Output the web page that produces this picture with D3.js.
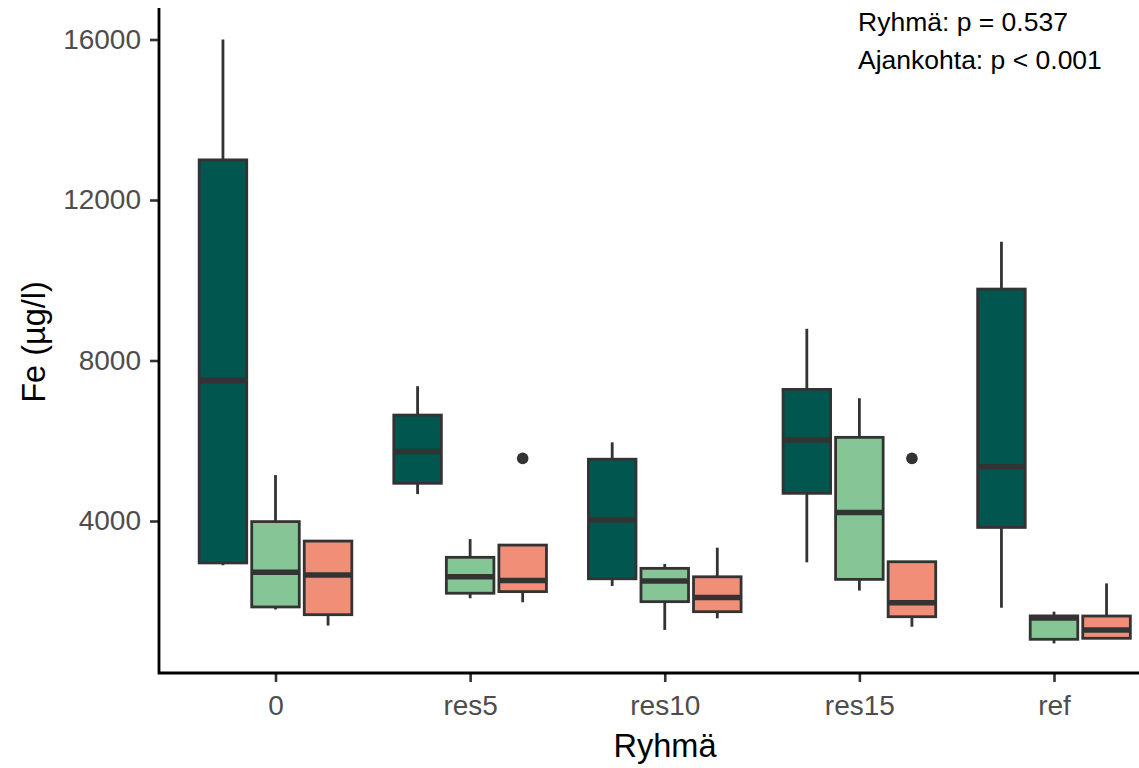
<!DOCTYPE html>
<html>
<head>
<meta charset="utf-8">
<script src="https://cdn.jsdelivr.net/npm/d3@7"></script>
<style>
  body { margin: 0; background: #fff; }
  text { font-family: "Liberation Sans", Arial, sans-serif; }
</style>
</head>
<body>
<svg id="chart" width="1139" height="768"></svg>
<script>
var groups = ["0", "res5", "res10", "res15", "ref"];
var times = ["1", "2", "3"];
var timeColors = ["#01564f", "#86c596", "#f18e78"];

// [lower whisker, Q1, median, Q3, upper whisker] for each group
var stats1 = [
	[2900, 2955, 7500, 13000, 16000],
	[4670, 4940, 5730, 6640, 7360],
	[2380, 2560, 4025, 5540, 5960],
	[2970, 4690, 6020, 7280, 8790],
	[1840, 3840, 5350, 9780, 10960]
];
var stats2 = [
	[1795, 1858, 2720, 3985, 5145],
	[2075, 2200, 2610, 3095, 3550],
	[1285, 1990, 2505, 2820, 2930],
	[2265, 2545, 4215, 6085, 7060],
	[950, 1052, 1580, 1635, 1740]
];
var stats3 = [
	[1395, 1665, 2655, 3500, 3500],
	[1975, 2240, 2515, 3400, 3400],
	[1575, 1740, 2095, 2610, 3335],
	[1365, 1615, 1965, 2985, 2985],
	[1077, 1077, 1285, 1632, 2445]
];
var outlierGroups = ["res5", "res15"];
var outlierTimes = ["3", "3"];
var outlierValues = [5560, 5560];

var yTicks = [4000, 8000, 12000, 16000];
var pTexts = ["Ryhmä: p = 0.537", "Ajankohta: p < 0.001"];

var svg = d3.select("#chart");
var allStats = [stats1, stats2, stats3];

var x = d3.scalePoint().domain(groups).range([275.5, 1054]);
var dodge = d3.scaleBand().domain(times)
	.range([-0.81 * x.step() / 2, 0.81 * x.step() / 2]);
var boxW = dodge.bandwidth() * 0.905;
var y = d3.scaleLinear().domain([212, 16785]).range([673, 8]);

// build flat box list from the arrays
var boxes = [];
times.forEach(function(t, j) {
	groups.forEach(function(g, i) {
		var s = allStats[j][i];
		boxes.push({group: g, time: t, color: timeColors[j],
			lo: s[0], q1: s[1], med: s[2], q3: s[3], hi: s[4]});
	});
});

function cx(g, t) { return x(g) + dodge(t) + dodge.bandwidth() / 2; }

var box_g = svg.append("g");

box_g.selectAll("line.whisker")
	.data(boxes)
	.enter().append("line")
	.attr("class", "whisker")
	.attr("x1", function(d) { return cx(d.group, d.time); })
	.attr("x2", function(d) { return cx(d.group, d.time); })
	.attr("y1", function(d) { return y(d.lo); })
	.attr("y2", function(d) { return y(d.hi); })
	.attr("stroke", "#333333")
	.attr("stroke-width", 2.8);

box_g.selectAll("rect")
	.data(boxes)
	.enter().append("rect")
	.attr("x", function(d) { return cx(d.group, d.time) - boxW / 2; })
	.attr("width", boxW)
	.attr("y", function(d) { return y(d.q3); })
	.attr("height", function(d) { return y(d.q1) - y(d.q3); })
	.attr("fill", function(d) { return d.color; })
	.attr("stroke", "#333333")
	.attr("stroke-width", 2.8);

box_g.selectAll("line.median")
	.data(boxes)
	.enter().append("line")
	.attr("class", "median")
	.attr("x1", function(d) { return cx(d.group, d.time) - boxW / 2; })
	.attr("x2", function(d) { return cx(d.group, d.time) + boxW / 2; })
	.attr("y1", function(d) { return y(d.med); })
	.attr("y2", function(d) { return y(d.med); })
	.attr("stroke", "#333333")
	.attr("stroke-width", 5.5);

box_g.selectAll("circle")
	.data(outlierValues)
	.enter().append("circle")
	.attr("cx", function(d, i) { return cx(outlierGroups[i], outlierTimes[i]); })
	.attr("cy", function(d) { return y(d); })
	.attr("r", 5.8)
	.attr("fill", "#333333");

// axes
var yAxis = svg.append("g")
	.attr("transform", "translate(159,0)")
	.call(d3.axisLeft(y).tickValues(yTicks).tickFormat(d3.format("d"))
		.tickSize(9).tickSizeOuter(0).tickPadding(9));
var xAxis = svg.append("g")
	.attr("transform", "translate(0,673)")
	.call(d3.axisBottom(x).tickSize(9).tickSizeOuter(0).tickPadding(13));

[yAxis, xAxis].forEach(function(a) {
	a.select(".domain").remove();
	a.selectAll(".tick line").attr("stroke", "#333333").attr("stroke-width", 2.6);
	a.selectAll(".tick text")
		.attr("fill", "#4d4d4d")
		.style("font-size", "28px");
});

svg.append("path")
	.attr("d", "M159,8V673H1139")
	.attr("fill", "none")
	.attr("stroke", "#000")
	.attr("stroke-width", 2.8);

// titles
svg.append("text")
	.attr("x", 665).attr("y", 757)
	.attr("text-anchor", "middle")
	.style("font-size", "32.5px")
	.text("Ryhmä");

svg.append("text")
	.attr("transform", "translate(45,342) rotate(-90)")
	.attr("text-anchor", "middle")
	.style("font-size", "32.5px")
	.text("Fe (µg/l)");

svg.selectAll("text.ptext")
	.data(pTexts)
	.enter().append("text")
	.attr("class", "ptext")
	.attr("x", 858)
	.attr("y", function(d, i) { return 30.5 + i * 38; })
	.style("font-size", "26.5px")
	.text(function(d) { return d; });
</script>
</body>
</html>
